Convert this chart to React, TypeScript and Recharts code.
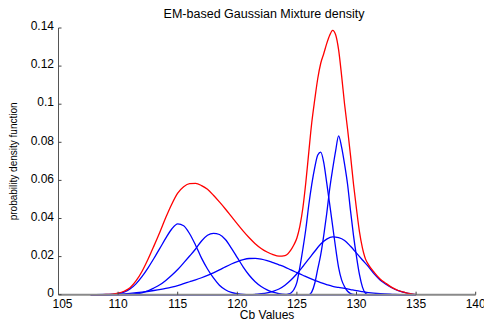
import { LineChart, Line, XAxis, YAxis, Label } from 'recharts'

type Pt = [number, number]

// Cb value, density
const mixture: Pt[] = [
  [107.7, 0], [108.5, 0], [109, 0.0001], [109.5, 0.0003], [110, 0.0008], [110.5, 0.0018],
  [111, 0.0036], [111.5, 0.0072], [112, 0.0122], [112.5, 0.0185], [113, 0.0255], [113.5, 0.0328],
  [114, 0.0405], [114.5, 0.0475], [115, 0.0533], [115.5, 0.0567], [116, 0.0583], [116.5, 0.0584],
  [117, 0.0573], [117.5, 0.0553], [118, 0.0522], [118.5, 0.0487], [119, 0.045], [119.5, 0.0411],
  [120, 0.0372], [120.5, 0.0334], [121, 0.0299], [121.5, 0.0268], [122, 0.0243], [122.5, 0.0224],
  [123, 0.021], [123.5, 0.0202], [124, 0.0205], [124.5, 0.0235], [124.75, 0.0262], [125, 0.0298],
  [125.25, 0.036], [125.5, 0.0455], [125.75, 0.059], [126, 0.075], [126.25, 0.0905], [126.5, 0.1025],
  [126.75, 0.1135], [127, 0.1215], [127.25, 0.1265], [127.5, 0.1318], [127.75, 0.1362], [128, 0.1388],
  [128.25, 0.1365], [128.5, 0.1285], [128.75, 0.115], [129, 0.1], [129.25, 0.087], [129.5, 0.073],
  [129.75, 0.058], [130, 0.045], [130.25, 0.033], [130.5, 0.0245], [130.75, 0.0188], [131, 0.0158],
  [131.5, 0.0116], [132, 0.0081], [132.5, 0.0058], [133, 0.0037], [133.5, 0.0022], [134, 0.0013],
  [134.5, 0.0005], [135, 0],
]

const comp1: Pt[] = [
  [107.7, 0], [109, 0], [109.5, 0.0002], [110, 0.0006], [110.5, 0.0014], [111, 0.003],
  [111.5, 0.0057], [112, 0.0095], [112.5, 0.014], [113, 0.019], [113.5, 0.0243], [114, 0.0297],
  [114.5, 0.0345], [115, 0.0372], [115.5, 0.0362], [116, 0.032], [116.5, 0.026], [117, 0.0192],
  [117.5, 0.0135], [118, 0.0088], [118.5, 0.005], [119, 0.0026], [119.5, 0.0012], [120, 0.0005],
  [120.5, 0.0001], [121, 0], [135, 0],
]

const comp2: Pt[] = [
  [107.7, 0], [110.5, 0], [111, 0.0002], [111.5, 0.0005], [112, 0.001], [112.5, 0.002],
  [113, 0.0035], [113.5, 0.0052], [114, 0.0075], [114.5, 0.0102], [115, 0.0132], [115.5, 0.0167],
  [116, 0.0203], [116.5, 0.024], [117, 0.0282], [117.5, 0.0312], [118, 0.0322], [118.5, 0.0316],
  [119, 0.029], [119.5, 0.0245], [120, 0.0195], [120.5, 0.0145], [121, 0.0102], [121.5, 0.0068],
  [122, 0.0043], [122.5, 0.0025], [123, 0.0013], [123.5, 0.0005], [124, 0.0001], [124.5, 0], [135, 0],
]

const comp3: Pt[] = [
  [107.7, 0], [109, 0.0001], [110, 0.0003], [111, 0.0007], [112, 0.0013], [113, 0.0022],
  [114, 0.0033], [114.5, 0.004], [115, 0.0048], [115.5, 0.0058], [116, 0.0068], [116.5, 0.0078],
  [117, 0.0089], [117.5, 0.0101], [118, 0.0115], [118.5, 0.013], [119, 0.0146], [119.5, 0.0161],
  [120, 0.0174], [120.5, 0.0184], [121, 0.019], [121.5, 0.0191], [122, 0.0187], [122.5, 0.0179],
  [123, 0.0168], [123.5, 0.0157], [124, 0.0145], [124.5, 0.013], [125, 0.0116], [125.5, 0.0102],
  [126, 0.0088], [126.5, 0.0075], [127, 0.0063], [127.5, 0.0053], [128, 0.0044], [128.5, 0.0038],
  [129, 0.0033], [129.5, 0.0027], [130, 0.0021], [130.5, 0.0016], [131, 0.0011], [132, 0.0005],
  [133, 0.0002], [134, 0], [135, 0],
]

const comp4: Pt[] = [
  [107.7, 0], [124, 0], [124.25, 0.0003], [124.5, 0.0009], [124.75, 0.0027], [125, 0.0065],
  [125.25, 0.0145], [125.5, 0.024], [125.75, 0.0345], [126, 0.0472], [126.25, 0.058], [126.5, 0.0668],
  [126.75, 0.0733], [127, 0.0748], [127.25, 0.0695], [127.5, 0.0588], [127.75, 0.0475], [128, 0.036],
  [128.25, 0.0245], [128.5, 0.0142], [128.75, 0.0078], [129, 0.0042], [129.25, 0.0018], [129.5, 0.0006],
  [129.75, 0.0001], [130, 0], [135, 0],
]

const comp5: Pt[] = [
  [107.7, 0], [126, 0], [126.25, 0.0015], [126.5, 0.006], [126.75, 0.0135], [127, 0.021],
  [127.25, 0.031], [127.5, 0.0425], [127.75, 0.0555], [128, 0.066], [128.25, 0.0755], [128.5, 0.0834],
  [128.75, 0.0775], [129, 0.0685], [129.25, 0.058], [129.5, 0.044], [129.75, 0.031], [130, 0.02],
  [130.25, 0.0105], [130.5, 0.004], [130.75, 0.0008], [131, 0], [135, 0],
]

const comp6: Pt[] = [
  [107.7, 0], [121, 0], [122, 0.0005], [122.5, 0.001], [123, 0.0018], [123.5, 0.003],
  [124, 0.005], [124.5, 0.0077], [125, 0.011], [125.5, 0.0148], [126, 0.0188], [126.5, 0.0228],
  [127, 0.0266], [127.5, 0.0292], [128, 0.0304], [128.5, 0.03], [129, 0.0285], [129.5, 0.0254],
  [130, 0.0218], [130.5, 0.0182], [131, 0.0147], [131.5, 0.0108], [132, 0.0076], [132.5, 0.0054],
  [133, 0.0035], [133.5, 0.0021], [134, 0.0012], [134.5, 0.0005], [135, 0],
]

const xTicks = [105, 110, 115, 120, 125, 130, 135, 140]
const yTicks = [0, 0.02, 0.04, 0.06, 0.08, 0.1, 0.12, 0.14]

const components = [comp1, comp2, comp3, comp4, comp5, comp6]

const toRows = (pts: Pt[]) => pts.map(([cb, pdf]) => ({ cb, pdf }))

const font = '"Liberation Sans", Arial, Helvetica, sans-serif'
const tickStyle = { fontSize: 12, fill: '#000', fontFamily: font }

// x tick labels; the first one sits a little right of its tick, as in the original
function CbTick(props: any) {
  const { x, y, payload } = props
  const shift = payload.value === xTicks[0] ? 4 : 0
  return (
    <text x={x + shift} y={y} dy="0.71em" textAnchor="middle" {...tickStyle}>
      {payload.value}
    </text>
  )
}

export default function App() {
  return (
    <div style={{ position: 'absolute', left: 0, top: 0, width: 484, height: 321, background: '#fff' }}>
      <div
        style={{
          position: 'absolute',
          left: 0,
          width: 528,
          top: 6.5,
          textAlign: 'center',
          fontFamily: font,
          fontSize: 12.5,
          lineHeight: '15px',
          color: '#000',
        }}
      >
        EM-based Gaussian Mixture density
      </div>
      <LineChart
        width={484}
        height={321}
        margin={{ top: 28, right: 8.3, bottom: 25.3, left: 57.5 }}
      >
        <XAxis
          dataKey="cb"
          type="number"
          domain={[105, 140]}
          ticks={xTicks}
          height={1}
          tickSize={-3}
          tickMargin={7.5}
          tick={<CbTick />}
          axisLine={{ stroke: '#8a8a8a', strokeWidth: 2 }}
          tickLine={{ stroke: '#444' }}
          interval={0}
        >
          <Label
            value="Cb Values"
            position="bottom"
            offset={15}
            style={{ fontSize: 12, fill: '#000', fontFamily: font }}
          />
        </XAxis>
        <YAxis
          dataKey="pdf"
          type="number"
          domain={[0, 0.14]}
          ticks={yTicks}
          width={1}
          tickSize={-3}
          tickMargin={7.5}
          tick={{ ...tickStyle, dy: -2 }}
          axisLine={{ stroke: '#555', strokeWidth: 1 }}
          tickLine={{ stroke: '#444' }}
          interval={0}
        >
          <Label
            value="probability density function"
            angle={-90}
            position="left"
            offset={44}
            style={{ fontSize: 10, fill: '#000', fontFamily: font, textAnchor: 'middle' }}
          />
        </YAxis>
        {components.map((c, i) => (
          <Line
            key={i}
            data={toRows(c)}
            dataKey="pdf"
            type="monotone"
            stroke="#0000ff"
            strokeWidth={1.3}
            dot={false}
            activeDot={false}
            isAnimationActive={false}
          />
        ))}
        <Line
          data={toRows(mixture)}
          dataKey="pdf"
          type="monotone"
          stroke="#ff0000"
          strokeWidth={1.3}
          dot={false}
          activeDot={false}
          isAnimationActive={false}
        />
      </LineChart>
    </div>
  )
}
